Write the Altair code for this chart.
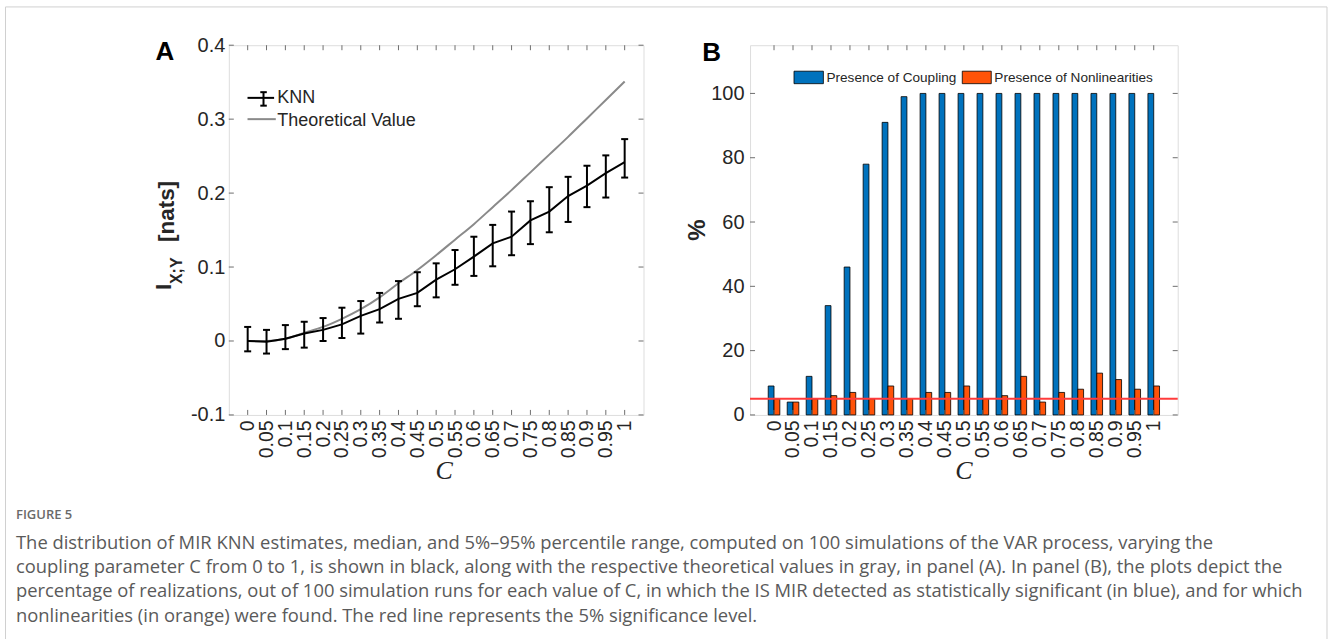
import altair as alt
import pandas as pd

# ---------------- data ----------------
C_VALUES = [0, 0.05, 0.1, 0.15, 0.2, 0.25, 0.3, 0.35, 0.4, 0.45, 0.5,
            0.55, 0.6, 0.65, 0.7, 0.75, 0.8, 0.85, 0.9, 0.95, 1]
KNN_MEDIAN = [0.000, -0.001, 0.003, 0.010, 0.015, 0.0225, 0.034, 0.043, 0.057, 0.065, 0.083,
              0.097, 0.114, 0.132, 0.141, 0.163, 0.175, 0.196, 0.210, 0.227, 0.242]
KNN_P05 = [-0.014, -0.017, -0.011, -0.009, 0.000, 0.004, 0.010, 0.025, 0.030, 0.047, 0.059,
           0.076, 0.088, 0.101, 0.116, 0.131, 0.147, 0.161, 0.181, 0.194, 0.221]
KNN_P95 = [0.019, 0.015, 0.0215, 0.026, 0.031, 0.045, 0.054, 0.065, 0.081, 0.093, 0.105,
           0.123, 0.141, 0.157, 0.175, 0.189, 0.208, 0.222, 0.237, 0.251, 0.273]
THEORETICAL = [0.000, 0.000, 0.003, 0.011, 0.019, 0.030, 0.043, 0.059, 0.078, 0.096, 0.116,
               0.137, 0.158, 0.181, 0.204, 0.228, 0.252, 0.276, 0.301, 0.326, 0.351]
COUPLING_PCT = [9, 4, 12, 34, 46, 78, 91, 99, 100, 100, 100,
                100, 100, 100, 100, 100, 100, 100, 100, 100, 100]
NONLIN_PCT = [5, 4, 5, 6, 7, 5, 9, 5, 7, 7, 9,
              5, 6, 12, 4, 7, 8, 13, 11, 8, 9]
SIG_LEVEL = [5]
A_YTICKS = [-0.1, 0, 0.1, 0.2, 0.3, 0.4]
B_YTICKS = [0, 20, 40, 60, 80, 100]
LEGEND_A = ["KNN", "Theoretical Value"]
LEGEND_B = ["Presence of Coupling", "Presence of Nonlinearities"]
CAPTION_TITLE = "FIGURE 5"
CAPTION_LINES = [
    "The distribution of MIR KNN estimates, median, and 5%\u201395% percentile range, computed on 100 simulations of the VAR process, varying the",
    "coupling parameter C from 0 to 1, is shown in black, along with the respective theoretical values in gray, in panel (A). In panel (B), the plots depict the",
    "percentage of realizations, out of 100 simulation runs for each value of C, in which the IS MIR detected as statistically significant (in blue), and for which",
    "nonlinearities (in orange) were found. The red line represents the 5% significance level.",
]

# ---------------- styles ----------------
FONT = "Liberation Sans"
AX = "#262626"
FRAME = "#6e6e6e"
BLUE = "#0072BD"
ORANGE = "#FF5308"
RED = "#FF3B3B"
GRAY = "#8a8a8a"
BORDER = "#d0d0d0"

WA, WB, H = 415, 428, 370
TK = 5  # inward tick length

dfA = pd.DataFrame({"C": C_VALUES, "med": KNN_MEDIAN, "lo": KNN_P05,
                    "hi": KNN_P95, "th": THEORETICAL})
dfB = pd.DataFrame({"C": C_VALUES, "coup": COUPLING_PCT, "nonlin": NONLIN_PCT})
dfC = pd.DataFrame({"C": C_VALUES})
dfYA = pd.DataFrame({"v": A_YTICKS})
dfYB = pd.DataFrame({"v": B_YTICKS})
dfSig = pd.DataFrame({"s": SIG_LEVEL})
one = pd.DataFrame({"k": [0]})

xscale = alt.Scale(domain=[-0.05, 1.05], nice=False, zero=False)
xaxis = alt.Axis(values=C_VALUES, labelExpr="format(datum.value, '.2~f')",
                 labelAngle=270, title=None, ticks=False, domain=False, grid=False,
                 labelOverlap=False, labelFlush=False, labelBound=False,
                 labelFontSize=19.5, labelPadding=5, labelColor=AX, labelFont=FONT)

yscaleA = alt.Scale(domain=[-0.1, 0.4], nice=False, zero=False)
yaxisA = alt.Axis(values=A_YTICKS, labelExpr="replace(format(datum.value, '.1~f'), '\u2212', '-')",
                  title=None, ticks=False, domain=False, grid=False, labelOverlap=False,
                  labelFontSize=20, labelPadding=4, labelColor=AX, labelFont=FONT)
yscaleB = alt.Scale(domain=[0, 115], nice=False, zero=True)
yaxisB = alt.Axis(values=B_YTICKS, title=None, ticks=False, domain=False, grid=False, labelOverlap=False,
                  labelFontSize=20, labelPadding=6, labelColor=AX, labelFont=FONT)


def X(field="C"):
    return alt.X(f"{field}:Q", scale=xscale, axis=xaxis)


def txt(s, x, y, **kw):
    return alt.Chart(one).mark_text(text=s, **kw).encode(x=alt.value(x), y=alt.value(y))


def inward_ticks(w, h, ydf, yscale, yaxis):
    left = alt.Chart(ydf).mark_rule(color=FRAME, strokeWidth=1).encode(
        y=alt.Y("v:Q", scale=yscale, axis=yaxis), x=alt.value(0), x2=alt.value(TK))
    right = alt.Chart(ydf).mark_rule(color=FRAME, strokeWidth=1).encode(
        y=alt.Y("v:Q", scale=yscale, axis=yaxis), x=alt.value(w), x2=alt.value(w - TK))
    bot = alt.Chart(dfC).mark_rule(color=FRAME, strokeWidth=1).encode(
        x=X(), y=alt.value(h), y2=alt.value(h - TK))
    top = alt.Chart(dfC).mark_rule(color=FRAME, strokeWidth=1).encode(
        x=X(), y=alt.value(0), y2=alt.value(TK))
    return [left, right, bot, top]


# ---------------- panel A ----------------
def YA(field):
    return alt.Y(f"{field}:Q", scale=yscaleA, axis=yaxisA)


theo = alt.Chart(dfA).mark_line(color=GRAY, strokeWidth=2, interpolate="monotone").encode(
    x=X(), y=YA("th"))
knn = alt.Chart(dfA).mark_line(color="black", strokeWidth=2).encode(x=X(), y=YA("med"))
ebar = alt.Chart(dfA).mark_rule(color="black", strokeWidth=2).encode(x=X(), y=YA("lo"), y2="hi:Q")
capLo = alt.Chart(dfA).mark_rule(color="black", strokeWidth=2, xOffset=-3.5, x2Offset=3.5).encode(
    x=X(), x2="C:Q", y=YA("lo"))
capHi = alt.Chart(dfA).mark_rule(color="black", strokeWidth=2, xOffset=-3.5, x2Offset=3.5).encode(
    x=X(), x2="C:Q", y=YA("hi"))

# legend A (manual)
legA = [
    alt.Chart(one).mark_rule(color="black", strokeWidth=2).encode(
        x=alt.value(18.7), x2=alt.value(45.3), y=alt.value(52.7)),
    alt.Chart(one).mark_rule(color="black", strokeWidth=2).encode(
        x=alt.value(34.7), y=alt.value(47.0), y2=alt.value(60.5)),
    alt.Chart(one).mark_rule(color="black", strokeWidth=2).encode(
        x=alt.value(31.5), x2=alt.value(38), y=alt.value(47.0)),
    alt.Chart(one).mark_rule(color="black", strokeWidth=2).encode(
        x=alt.value(31.5), x2=alt.value(38), y=alt.value(60.5)),
    txt(LEGEND_A[0], 48.5, 53, align="left", baseline="middle", fontSize=18, font=FONT, color=AX),
    alt.Chart(one).mark_rule(color=GRAY, strokeWidth=2).encode(
        x=alt.value(18.7), x2=alt.value(47), y=alt.value(74)),
    txt(LEGEND_A[1], 48.5, 76, align="left", baseline="middle", fontSize=18, font=FONT, color=AX),
]

titlesA = [
    txt("A", -64, 7, align="center", baseline="middle", fontSize=26, fontWeight="bold", font=FONT, color="black"),
    txt("I", -58, 245, angle=270, align="left", baseline="alphabetic", fontSize=22, fontWeight="bold", font=FONT, color=AX),
    txt("X;Y", -46.5, 239, angle=270, align="left", baseline="alphabetic", fontSize=16, fontWeight="bold", font=FONT, color=AX),
    txt("[nats]", -55, 197, angle=270, align="left", baseline="alphabetic", fontSize=22.5, fontWeight="bold", font=FONT, color=AX),
    txt("C", WA / 2 + 8, 426, align="center", baseline="middle", fontSize=26, fontStyle="italic",
        font="Liberation Serif", color=AX),
]

# page border and caption (placed relative to panel A)
border = [
    alt.Chart(one).mark_rule(color=BORDER, strokeWidth=1).encode(
        x=alt.value(-223.5), y=alt.value(-38.3), y2=alt.value(595.5)),
    alt.Chart(one).mark_rule(color=BORDER, strokeWidth=1).encode(
        x=alt.value(-223.5), x2=alt.value(1099), y=alt.value(-38.3)),
    alt.Chart(one).mark_rule(color=BORDER, strokeWidth=1).encode(
        x=alt.value(1099), y=alt.value(-38.3), y2=alt.value(595.5)),
]
caption = [txt(CAPTION_TITLE, -213, 470, align="left", baseline="middle", fontSize=13,
               font="Open Sans", color="#6a6a6a", fontWeight=600)]
for i, line in enumerate(CAPTION_LINES):
    caption.append(txt(line, -213, 497.7 + 24.5 * i, align="left", baseline="middle", fontSize=18.4,
                       font="Open Sans", color="#5a5a5a"))

panelA = alt.layer(theo, knn, ebar, capLo, capHi,
                   *inward_ticks(WA, H, dfYA, yscaleA, yaxisA),
                   *legA, *titlesA, *border, *caption).properties(width=WA, height=H)

# ---------------- panel B ----------------
def YB(field):
    return alt.Y(f"{field}:Q", scale=yscaleB, axis=yaxisB)


barC = alt.Chart(dfB).mark_bar(width=5.8, xOffset=-2.9, color=BLUE, stroke="black", strokeWidth=0.8).encode(
    x=X(), y=YB("coup"))
barN = alt.Chart(dfB).mark_bar(width=5.8, xOffset=2.9, color=ORANGE, stroke="black", strokeWidth=0.8).encode(
    x=X(), y=YB("nonlin"))
sig = alt.Chart(dfSig).mark_rule(color=RED, strokeWidth=2).encode(y=YB("s"))

legB = [
    alt.Chart(one).mark_rect(color=BLUE, stroke="black", strokeWidth=0.8).encode(
        x=alt.value(44), x2=alt.value(73.4), y=alt.value(26), y2=alt.value(38.5)),
    txt(LEGEND_B[0], 76.5, 32.5, align="left", baseline="middle", fontSize=13.6, font=FONT, color=AX),
    alt.Chart(one).mark_rect(color=ORANGE, stroke="black", strokeWidth=0.8).encode(
        x=alt.value(212.4), x2=alt.value(241.4), y=alt.value(26), y2=alt.value(38.5)),
    txt(LEGEND_B[1], 244.5, 32.5, align="left", baseline="middle", fontSize=13.6, font=FONT, color=AX),
]
titlesB = [
    txt("B", -38.5, 7.5, align="center", baseline="middle", fontSize=26, fontWeight="bold", font=FONT, color="black"),
    txt("%", -52, 185, angle=270, align="center", baseline="middle", fontSize=24, fontWeight="bold", font=FONT, color=AX),
    txt("C", WB / 2 + 0, 426, align="center", baseline="middle", fontSize=26, fontStyle="italic",
        font="Liberation Serif", color=AX),
]

panelB = alt.layer(barC, barN, sig, *inward_ticks(WB, H, dfYB, yscaleB, yaxisB),
                   *legB, *titlesB).properties(width=WB, height=H)

chart = alt.hconcat(panelA, panelB, spacing=106.6, bounds="flush").properties(
    padding={"left": 4, "top": 5, "right": 0, "bottom": 0},
    autosize=alt.AutoSizeParams(type="pad"),
    background="white",
).configure_view(stroke=FRAME, strokeWidth=1.2).configure(font=FONT)

chart.save("out.html", embed_options={"renderer": "svg", "actions": False})
